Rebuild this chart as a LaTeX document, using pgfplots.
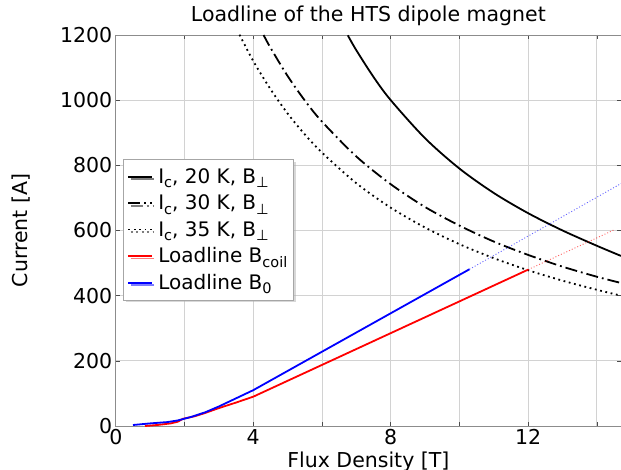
\documentclass[border=0pt]{standalone}
\usepackage{fontspec}
\setmainfont{DejaVu Sans}
\usepackage{pgfplots}
\pgfplotsset{compat=1.18}
\usetikzlibrary{shadows}
\newcommand\sub[1]{\raisebox{-0.22em}{\fontsize{14.5bp}{15bp}\selectfont #1}}
\begin{document}
\begin{tikzpicture}
\begin{axis}[
  at={(0,0)}, anchor=south west,
  scale only axis, width=505.2bp, height=391bp,
  xmin=0, xmax=14.7, ymin=0, ymax=1200,
  xtick={0,4,8,12}, minor xtick={2,6,10,14},
  ytick={0,200,400,600,800,1000,1200},
  xmajorgrids, xminorgrids, ymajorgrids,
  grid style={gray!35, line width=0.9bp},
  minor grid style={gray!35, line width=0.9bp},
  axis line style={gray!90, line width=0.8bp},
  tick style={black!70, line width=0.6bp},
  minor tick length=4bp, major tick length=4bp,
  /pgf/number format/assume math mode=true,
  /pgf/number format/1000 sep={},
  ticklabel style={font=\fontsize{20.5bp}{24bp}\selectfont},
  title={Loadline of the HTS dipole magnet},
  title style={at={(axis description cs:0.5,1.0205)}, anchor=base, inner sep=0pt, font=\fontsize{20.5bp}{24bp}\selectfont},
  xlabel={Flux Density [T]},
  xlabel style={at={(axis description cs:0.5,-0.0665)}, anchor=north, inner sep=0pt, font=\fontsize{20.5bp}{24bp}\selectfont},
  ylabel={Current [A]},
  ylabel style={at={(axis description cs:-0.2059,0.5)}, anchor=north, inner sep=0pt, font=\fontsize{20.5bp}{24bp}\selectfont},
  legend cell align=left,
  legend image code/.code={\draw[#1] (0bp,0bp) -- (23.4bp,0bp);},
  legend style={at={(axis description cs:0.0148,0.682)}, anchor=north west,
    draw=gray!70, fill=white, line width=0.6bp,
    drop shadow={shadow xshift=2.5bp, shadow yshift=-2.5bp, fill=gray!60},
    font=\fontsize{20bp}{23bp}\selectfont, row sep=6bp, column sep=0bp, inner xsep=4bp, inner ysep=7bp},
]
\addplot[black, line width=1.8bp, smooth] coordinates {
 (6.75,1199) (7,1153) (7.5,1071) (8,1000) (9,883) (10,790) (11,715) (12,653) (13,600) (14,553) (14.7,522)};
\addlegendentry{\hspace{3.5bp}I\sub{c}, 20 K, B\sub{⊥}}
\addplot[black, line width=1.8bp, smooth, dash pattern=on 12bp off 4bp on 1.8bp off 4bp] coordinates {
 (4.3,1200) (4.5,1161) (5,1074) (5.5,999) (6,934) (7,827) (8,742) (9,672) (10,615) (11,566) (12,525) (13,489) (14,458) (14.7,439)};
\addlegendentry{\hspace{3.5bp}I\sub{c}, 30 K, B\sub{⊥}}
\addplot[black, line width=1.8bp, smooth, dash pattern=on 1.8bp off 3.6bp] coordinates {
 (3.6,1201) (4,1120) (4.5,1034) (5,959) (5.5,895) (6,839) (7,745) (8,670) (9,609) (10,558) (11,515) (12,478) (13,446) (14,418) (14.7,400)};
\addlegendentry{\hspace{3.5bp}I\sub{c}, 35 K, B\sub{⊥}}
\addplot[red, line width=1.8bp] coordinates {
 (0.85,0) (1.2,3) (1.6,8) (1.8,13) (1.95,22) (2.3,30) (2.6,40) (3,55) (3.5,72) (4,90) (6,187.5) (8,285) (10,382.5) (12,480)};
\addlegendentry{\hspace{3.5bp}Loadline B\sub{coil}}
\addplot[blue, line width=1.8bp] coordinates {
 (0.5,3) (1,8) (1.5,12) (1.8,17) (2.2,28) (2.6,42) (3,60) (3.5,85) (4,110) (6,228) (8,346) (10.29,481)};
\addlegendentry{\hspace{3.5bp}Loadline B\sub{0}}
\addplot[red, opacity=0.6, line width=0.9bp, dash pattern=on 1bp off 2bp, forget plot] coordinates {(12,480) (14.48,601)};
\addplot[blue, opacity=0.6, line width=0.9bp, dash pattern=on 1bp off 2bp, forget plot] coordinates {(10.29,481) (14.7,744)};
\end{axis}
\pgfresetboundingbox
\useasboundingbox (-115.8bp,-44bp) rectangle (505.2bp,426bp);
\end{tikzpicture}
\end{document}
